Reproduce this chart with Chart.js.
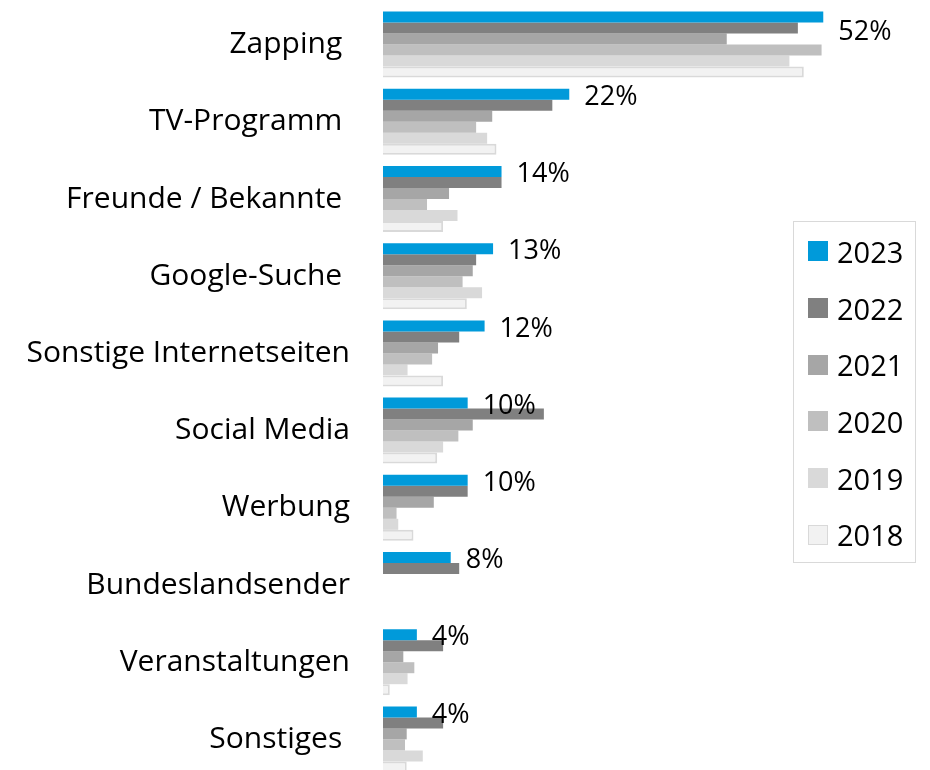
<!DOCTYPE html>
<html lang="de">
<head>
<meta charset="utf-8">
<title>Wie werden Sender gefunden</title>
<script src="https://cdn.jsdelivr.net/npm/chart.js@4.4.1/dist/chart.umd.min.js"></script>
<style>
  html, body { margin: 0; padding: 0; background: #fff; overflow: hidden; }
  #wrap { position: relative; width: 930px; height: 770px; overflow: hidden; }
  #chart { position: absolute; left: 0; top: 0; }
  #legend {
    position: absolute; left: 793px; top: 221px; width: 123px; height: 342px;
    box-sizing: border-box; border: 1px solid #d9d9d9; padding-top: 1px;
    font-family: "Open Sans", sans-serif; font-size: 29px; color: #000;
  }
  .item { height: 56.7px; display: flex; align-items: center; padding-left: 14px; }
  .swatch { width: 20px; height: 20px; box-sizing: border-box; margin-right: 9px; }
</style>
</head>
<body>
<div id="wrap">
  <canvas id="chart" width="930" height="780"></canvas>
  <div id="legend"></div>
</div>
<script>
// --- Daten ---
const categories = ['Zapping ', 'TV-Programm ', 'Freunde / Bekannte ', 'Google-Suche ',
  'Sonstige Internetseiten', 'Social Media', 'Werbung', 'Bundeslandsender',
  'Veranstaltungen', 'Sonstiges '];
const years = ['2023', '2022', '2021', '2020', '2019', '2018'];

const s2023 = [52, 22, 14, 13, 12, 10, 10, 8, 4, 4];
const s2022 = [49, 20, 14, 11, 9, 19, 10, 9, 7.1, 7.1];
const s2021 = [40.6, 12.9, 7.8, 10.6, 6.5, 10.6, 6, null, 2.4, 2.8];
const s2020 = [51.8, 11, 5.2, 9.4, 5.8, 8.9, 1.6, null, 3.7, 2.6];
const s2019 = [48, 12.3, 8.8, 11.7, 2.9, 7.1, 1.8, null, 2.9, 4.7];
const s2018 = [49.7, 13.4, 7.1, 9.9, 7.1, 6.4, 3.6, null, 0.8, 2.8];

const seriesValues = [s2023, s2022, s2021, s2020, s2019, s2018];
const fills   = ['#009ADA', '#808080', '#A6A6A6', '#BFBFBF', '#D9D9D9', '#F2F2F2'];
const borders = ['#009ADA', '#808080', '#A6A6A6', '#BFBFBF', '#D9D9D9', '#D9D9D9'];

const FONT = '"Open Sans", sans-serif';
const labelShiftY = [12, 0, 0, 0, 0, 0, 0, 0, 0, 0]; // "52%" sitzt tiefer

// Prozentwerte hinter den 2023-Balken
const endLabels = {
  id: 'endLabels',
  afterDatasetsDraw(chart) {
    const ctx = chart.ctx;
    const meta = chart.getDatasetMeta(0);
    ctx.save();
    ctx.font = '27px ' + FONT;
    ctx.fillStyle = '#000';
    ctx.textBaseline = 'middle';
    meta.data.forEach((bar, i) => {
      const v = s2023[i];
      if (v == null) return;
      ctx.fillText(Math.round(v) + '%', bar.x + 15, bar.y + 3 + labelShiftY[i]);
    });
    ctx.restore();
  }
};

const chart = new Chart(document.getElementById('chart'), {
  type: 'bar',
  data: {
    labels: categories,
    datasets: years.map((y, i) => ({
      label: y,
      data: seriesValues[i],
      backgroundColor: fills[i],
      borderColor: borders[i],
      borderWidth: i === 5 ? 2 : 0,
      categoryPercentage: 0.855,
      barPercentage: 1
    }))
  },
  options: {
    indexAxis: 'y',
    responsive: false,
    animation: false,
    layout: { padding: { left: 0, right: 39, top: 6, bottom: 2 } },
    plugins: {
      legend: { display: false },
      tooltip: { enabled: false }
    },
    scales: {
      x: { display: false, min: 0, max: 60 },
      y: {
        grid: { display: false, drawTicks: false },
        border: { display: false },
        ticks: { color: '#000', padding: 33, font: { family: FONT, size: 30 } },
        afterFit(scale) {
          scale.width = 383;
          scale.paddingTop = 0;
          scale.paddingBottom = 0;
        }
      }
    }
  },
  plugins: [endLabels]
});

// Legende rechts im Rahmen
const legend = document.getElementById('legend');
chart.data.datasets.forEach(ds => {
  const item = document.createElement('div');
  item.className = 'item';
  const sw = document.createElement('span');
  sw.className = 'swatch';
  sw.style.background = ds.backgroundColor;
  if (ds.borderWidth) sw.style.border = '1.5px solid ' + ds.borderColor;
  item.appendChild(sw);
  item.appendChild(document.createTextNode(ds.label));
  legend.appendChild(item);
});
</script>
</body>
</html>
